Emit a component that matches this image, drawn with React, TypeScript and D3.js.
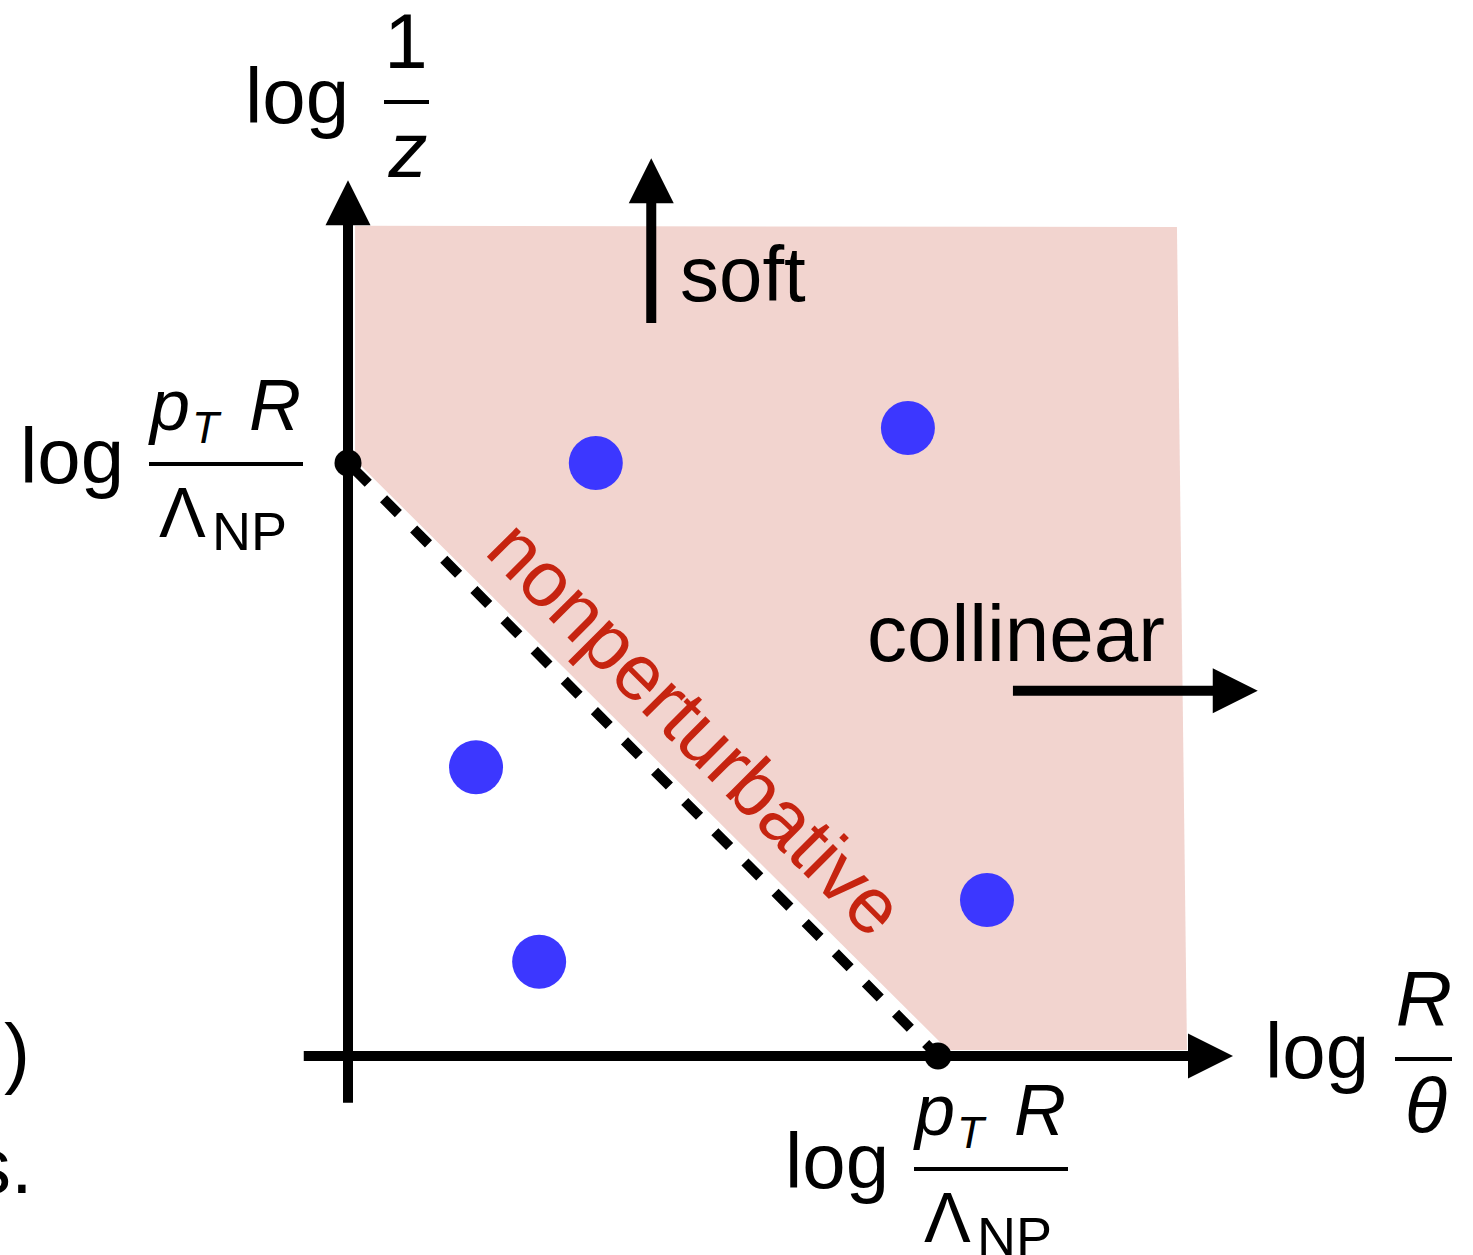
import React from "react";
import * as d3 from "d3";

const W = 1473;
const H = 1255;

// Coordinates are in units of L = log(pT R / Λ_NP) on both axes.
const xAxisExtent = [-0.075, 1.5];
const yAxisExtent = [-0.079, 1.477];

// Corners of the nonperturbative boundary (k_T = Λ_NP).
const boundaryX = [0, 1];
const boundaryY = [1, 0];

// Emissions in the Lund plane.
const emissionX = [0.42, 0.949, 0.217, 0.324, 1.083];
const emissionY = [1.0, 1.059, 0.487, 0.159, 0.263];

// Shaded perturbative region.
const regionX = [0.012, 1.405, 1.422, 1.017, 0.012];
const regionY = [1.4, 1.398, 0.01, 0.01, 1.005];

// Direction arrows.
const softArrowX = [0.514, 0.514];
const softArrowY = [1.236, 1.514];
const collinearArrowX = [1.127, 1.542];
const collinearArrowY = [0.616, 0.616];

const FONT = "'Liberation Sans', Arial, Helvetica, sans-serif";
const PINK = "#f2d4cf";
const BLUE = "#3c37ff";
const RED = "#c62410";

const x = d3.scaleLinear().domain([0, 1]).range([348, 938]);
const y = d3.scaleLinear().domain([0, 1]).range([1056, 463]);

type Pt = [number, number];

function Arrow({ from, to }: { from: Pt; to: Pt }) {
  const headLen = 45;
  const halfW = 22.5;
  const dx = to[0] - from[0];
  const dy = to[1] - from[1];
  const len = Math.hypot(dx, dy);
  const ux = dx / len;
  const uy = dy / len;
  const bx = to[0] - ux * headLen;
  const by = to[1] - uy * headLen;
  const head: Pt[] = [
    to,
    [bx - uy * halfW, by + ux * halfW],
    [bx + uy * halfW, by - ux * halfW],
  ];
  return (
    <g>
      <line
        x1={from[0]}
        y1={from[1]}
        x2={bx + ux * 2}
        y2={by + uy * 2}
        stroke="#000"
        strokeWidth={10}
      />
      <path d={(d3.line()(head) as string) + "Z"} fill="#000" />
    </g>
  );
}

// log (pT R / Λ_NP), drawn with "log" at the origin of the group
function ScaleLabel({ tx, ty }: { tx: number; ty: number }) {
  return (
    <g transform={`translate(${tx} ${ty})`}>
      <text x={0} y={0} fontSize={78}>log</text>
      <text x={130} y={-53} fontSize={72} fontStyle="italic">p</text>
      <text x={172} y={-40} fontSize={44} fontStyle="italic">T</text>
      <text x={229} y={-53} fontSize={72} fontStyle="italic">R</text>
      <rect x={129} y={-21} width={154} height={4} fill="#000" />
      <text x={139} y={54} fontSize={70}>Λ</text>
      <text x={192} y={67} fontSize={54}>NP</text>
    </g>
  );
}

export default function App() {
  const region: Pt[] = regionX.map((v, i) => [x(v), y(regionY[i])]);
  const emissions = emissionX.map((v, i) => ({ cx: x(v), cy: y(emissionY[i]) }));
  const corners = boundaryX.map((v, i) => ({ cx: x(v), cy: y(boundaryY[i]) }));

  return (
    <svg
      width={W}
      height={H}
      viewBox={`0 0 ${W} ${H}`}
      style={{ position: "absolute", left: 0, top: 0, background: "#fff" }}
      fontFamily={FONT}
    >
      <rect width={W} height={H} fill="#fff" />

      {/* perturbative region */}
      <path d={(d3.line()(region) as string) + "Z"} fill={PINK} />

      {/* nonperturbative boundary */}
      <line
        x1={corners[0].cx}
        y1={corners[0].cy}
        x2={corners[1].cx}
        y2={corners[1].cy}
        stroke="#000"
        strokeWidth={10}
        strokeDasharray="21 21.7"
        strokeDashoffset={35}
      />

      {/* axes */}
      <Arrow from={[x(0), y(yAxisExtent[0])]} to={[x(0), y(yAxisExtent[1])]} />
      <Arrow from={[x(xAxisExtent[0]), y(0)]} to={[x(xAxisExtent[1]), y(0)]} />

      {/* soft / collinear directions */}
      <Arrow
        from={[x(softArrowX[0]), y(softArrowY[0])]}
        to={[x(softArrowX[1]), y(softArrowY[1])]}
      />
      <Arrow
        from={[x(collinearArrowX[0]), y(collinearArrowY[0])]}
        to={[x(collinearArrowX[1]), y(collinearArrowY[1])]}
      />

      {corners.map((c, i) => (
        <circle key={i} cx={c.cx} cy={c.cy} r={13.5} fill="#000" />
      ))}

      {emissions.map((e, i) => (
        <circle key={i} cx={e.cx} cy={e.cy} r={27} fill={BLUE} />
      ))}

      {/* region labels */}
      <text x={680} y={301} fontSize={78} fill="#000">soft</text>
      <text x={867} y={661} fontSize={80} fill="#000">collinear</text>
      <text
        x={677}
        y={747}
        fontSize={79}
        fill={RED}
        textAnchor="middle"
        transform="rotate(45 677 747)"
      >
        nonperturbative
      </text>

      {/* y-axis title: log 1/z */}
      <text x={245} y={123} fontSize={78}>log</text>
      <text x={406} y={68} fontSize={78} textAnchor="middle">1</text>
      <rect x={384} y={100} width={45} height={4} fill="#000" />
      <text x={408} y={177} fontSize={78} textAnchor="middle" fontStyle="italic">z</text>

      {/* marks where the boundary meets each axis */}
      <ScaleLabel tx={20} ty={483} />
      <ScaleLabel tx={785} ty={1188} />

      {/* x-axis title: log R/θ */}
      <text x={1265} y={1078} fontSize={78}>log</text>
      <text x={1424} y={1025} fontSize={78} textAnchor="middle" fontStyle="italic">R</text>
      <rect x={1395} y={1057} width={57} height={4} fill="#000" />
      <text x={1426} y={1133} fontSize={78} textAnchor="middle" fontStyle="italic">θ</text>

      {/* neighbouring text cut off at the left edge */}
      <text x={4} y={1079} fontSize={78}>)</text>
      <text x={-28} y={1193} fontSize={78}>s.</text>
    </svg>
  );
}
